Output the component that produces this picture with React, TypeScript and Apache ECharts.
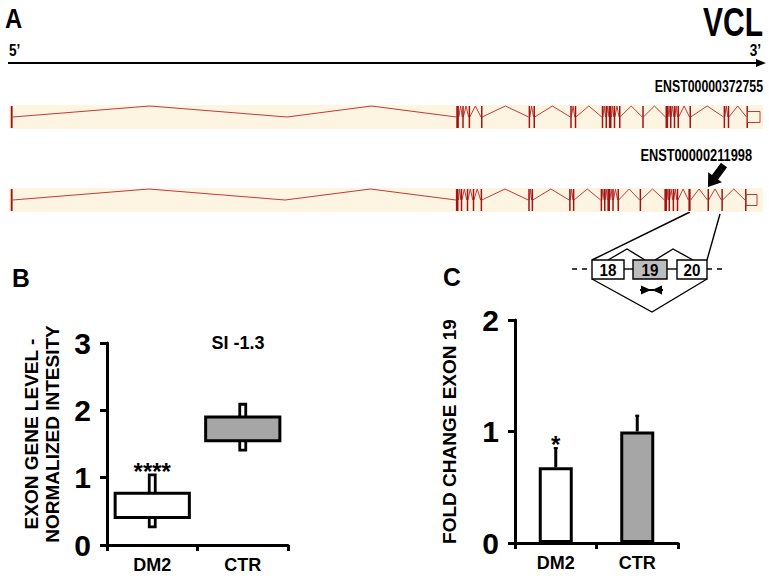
import React, { useEffect, useRef } from "react";
import * as echarts from "echarts";

const FONT = '"Liberation Sans", Arial, Helvetica, sans-serif';

// ---- Panel A: VCL gene structure (positions in % of gene span, 5' -> 3') ----
const geneName = "VCL";
const transcriptIds = ["ENST00000372755", "ENST00000211998"];
const exonsT1: number[][] = [
  [0.1, 0.35], [36.93, 36.93], [59.5, 59.85], [60.3, 60.45], [61.15, 61.3], [62.8, 62.95],
  [69.15, 69.3], [69.8, 69.95], [74.7, 74.85], [75.3, 75.45], [78.9, 79.05], [79.4, 79.55],
  [79.85, 80.2], [80.5, 80.65], [81.2, 81.35], [84.3, 84.45], [87.4, 87.75], [88.0, 88.15],
  [88.5, 88.65], [89.0, 89.15], [90.6, 90.75], [95.15, 95.3], [95.7, 95.85],
];
const exonsT2: number[][] = [
  [0.1, 0.35], [36.67, 36.67], [59.45, 59.8], [60.1, 60.25], [60.9, 61.05], [61.7, 61.85],
  [62.75, 62.9], [69.1, 69.25], [69.55, 69.7], [74.55, 74.7], [75.05, 75.2], [78.75, 78.9],
  [79.2, 79.35], [79.65, 80.0], [80.3, 80.45], [81.0, 81.15], [83.95, 84.1], [87.25, 87.6],
  [87.8, 87.95], [88.35, 88.5], [88.9, 89.05], [90.45, 90.75], [93.0, 93.15], [94.85, 95.0],
];
const utrExons: number[][] = [[98.2, 100], [98.0, 99.6]];
const insetExons = ["18", "19", "20"];

// ---- Panel B: exon gene level ----
const groups = ["DM2", "CTR"];
const boxLowB = [0.41, 1.55];
const boxHighB = [0.77, 1.9];
const whiskerLowB = [0.27, 1.41];
const whiskerHighB = [1.04, 2.09];
const sigB = ["****", ""];
const siText = "SI -1.3";

// ---- Panel C: fold change exon 19 ----
const foldC = [0.68, 1.0];
const errC = [0.18, 0.15];
const sigC = ["*", ""];

const groupFills = ["#ffffff", "#a6a6a6"];
const intronColor = "#c23a36";
const exonColor = "#9c1616";
const bandColor = "#fdf4e2";

export default function App() {
  const ref = useRef<HTMLDivElement>(null);
  useEffect(() => {
    if (!ref.current) return;
    const chart = echarts.init(ref.current, null, { renderer: "svg" });
    const geneExons = [exonsT1, exonsT2];

    const txt = (text: string, x: number, y: number, size: number, align = "left", vAlign = "middle", scaleX = 1) => ({
      type: "text",
      x,
      y,
      scaleX,
      style: { text, fill: "#000", font: `bold ${size}px ${FONT}`, textAlign: align, textVerticalAlign: vAlign },
    });

    // black block arrow pointing to exon 19 in transcript 2
    const tip = [708, 187];
    const tail = [724, 165];
    const dx = tip[0] - tail[0], dy = tip[1] - tail[1];
    const L = Math.hypot(dx, dy);
    const ux = dx / L, uy = dy / L, pxv = -uy, pyv = ux;
    const hb = [tip[0] - 12 * ux, tip[1] - 12 * uy];
    const arrowPts = [
      tip,
      [hb[0] + 8.5 * pxv, hb[1] + 8.5 * pyv],
      [hb[0] + 3.8 * pxv, hb[1] + 3.8 * pyv],
      [tail[0] + 3.8 * pxv, tail[1] + 3.8 * pyv],
      [tail[0] - 3.8 * pxv, tail[1] - 3.8 * pyv],
      [hb[0] - 3.8 * pxv, hb[1] - 3.8 * pyv],
      [hb[0] - 8.5 * pxv, hb[1] - 8.5 * pyv],
    ];

    const boxY = 260, boxH = 19;
    const insetBoxes = [
      { x: 592, w: 32 },
      { x: 633, w: 34 },
      { x: 677, w: 30 },
    ];
    const lineStyle = { stroke: "#000", lineWidth: 1.4, fill: "none" };

    const graphic: any[] = [
      txt("A", 5, 18, 28, "left", "middle", 0.85),
      txt(geneName, 763, 22, 40, "right", "middle", 0.75),
      txt("5\u2019", 9, 51, 16, "left", "middle", 0.85),
      txt("3\u2019", 761, 51, 16, "right", "middle", 0.85),
      { type: "line", shape: { x1: 8, y1: 63, x2: 759, y2: 63 }, style: { stroke: "#000", lineWidth: 2 } },
      { type: "polygon", shape: { points: [[756, 59], [766, 63], [756, 67]] }, style: { fill: "#000" } },
      txt(transcriptIds[0], 763, 86, 16, "right", "middle", 0.77),
      txt(transcriptIds[1], 752, 155, 16, "right", "middle", 0.8),
      { type: "polygon", shape: { points: arrowPts }, style: { fill: "#000" } },
      // inset: exons 18-19-20
      { type: "line", shape: { x1: 690, y1: 212, x2: 592, y2: 260 }, style: lineStyle },
      { type: "line", shape: { x1: 720, y1: 214, x2: 707, y2: 260 }, style: lineStyle },
      { type: "line", shape: { x1: 572, y1: 269, x2: 592, y2: 269 }, style: { ...lineStyle, lineDash: [5, 5] } },
      { type: "line", shape: { x1: 707, y1: 269, x2: 727, y2: 269 }, style: { ...lineStyle, lineDash: [5, 5] } },
      { type: "line", shape: { x1: 624, y1: 269, x2: 633, y2: 269 }, style: lineStyle },
      { type: "line", shape: { x1: 667, y1: 269, x2: 677, y2: 269 }, style: lineStyle },
      { type: "polyline", shape: { points: [[608, 260], [627, 249], [645, 260]] }, style: lineStyle },
      { type: "polyline", shape: { points: [[655, 260], [673, 249], [693, 260]] }, style: lineStyle },
      { type: "polyline", shape: { points: [[592, 279], [652, 312], [707, 279]] }, style: lineStyle },
      ...insetBoxes.map((b, i) => ({
        type: "rect",
        shape: { x: b.x, y: boxY, width: b.w, height: boxH },
        style: { fill: i === 1 ? "#bdbdbd" : "#fff", stroke: "#000", lineWidth: 1.4 },
      })),
      ...insetBoxes.map((b, i) => txt(insetExons[i], b.x + b.w / 2, boxY + boxH / 2 + 0.5, 16, "center", "middle", 0.95)),
      { type: "line", shape: { x1: 640, y1: 290, x2: 663, y2: 290 }, style: { stroke: "#000", lineWidth: 2 } },
      { type: "polygon", shape: { points: [[641, 285.5], [651, 290], [641, 294.5]] }, style: { fill: "#000" } },
      { type: "polygon", shape: { points: [[662, 285.5], [652, 290], [662, 294.5]] }, style: { fill: "#000" } },
      // panel letters
      txt("B", 12, 278, 26, "left", "middle", 0.95),
      txt("C", 443, 277, 26, "left", "middle", 0.95),
      txt(siText, 238, 343, 18, "center"),
    ];

    const axisLineStyle = { color: "#000", width: 3 };
    const catAxis = (gridIndex: number) => ({
      gridIndex,
      type: "category",
      data: groups,
      boundaryGap: true,
      axisLine: { show: true, lineStyle: axisLineStyle },
      axisTick: { show: true, length: 6, lineStyle: axisLineStyle },
      axisLabel: { color: "#000", fontFamily: FONT, fontWeight: "bold", fontSize: 18, margin: 11 },
      splitLine: { show: false },
    });
    const valAxis = (gridIndex: number, max: number, name: string, gap: number, pad: number[]) => ({
      gridIndex,
      type: "value",
      min: 0,
      max,
      interval: 1,
      axisLine: { show: true, lineStyle: axisLineStyle },
      axisTick: { show: true, length: 7, lineStyle: axisLineStyle },
      axisLabel: { color: "#000", fontFamily: FONT, fontWeight: "bold", fontSize: 30, margin: 16 },
      splitLine: { show: false },
      name,
      nameLocation: "middle",
      nameRotate: 90,
      nameGap: gap,
      nameTextStyle: {
        color: "#000",
        fontFamily: FONT,
        fontWeight: "bold",
        fontSize: 19,
        lineHeight: 21,
        padding: pad,
      },
    });

    const option: any = {
      animation: false,
      backgroundColor: "#fff",
      graphic,
      grid: [
        { left: 10, top: 117, width: 750, height: 83, outerBoundsMode: "none" },
        { left: 107, top: 343, width: 181, height: 202, outerBoundsMode: "none" },
        { left: 515, top: 320, width: 163, height: 223, outerBoundsMode: "none" },
      ],
      xAxis: [
        { gridIndex: 0, type: "value", min: 0, max: 100, show: false },
        catAxis(1),
        catAxis(2),
      ],
      yAxis: [
        { gridIndex: 0, type: "value", min: 0, max: 1, inverse: true, show: false },
        valAxis(1, 3, "EXON GENE LEVEL -\nNORMALIZED INTESITY", 44, [0, 0, 0, 20]),
        valAxis(2, 2, "FOLD CHANGE EXON 19", 55, [0, 0, 0, 0]),
      ],
      series: [
        {
          type: "custom",
          xAxisIndex: 0,
          yAxisIndex: 0,
          clip: false,
          data: transcriptIds.map((_, i) => [0, i]),
          renderItem: (params: any, api: any) => {
            const i = params.dataIndex;
            const base = api.coord([0, i])[1];
            const px = (u: number) => api.coord([u, i])[0];
            const exons = geneExons[i];
            const utr = utrExons[i];
            const segs = [...exons, utr];
            const children: any[] = [];
            children.push({
              type: "rect",
              shape: { x: px(0) - 1, y: base - 12, width: px(100) - px(0) + 4, height: 24 },
              style: { fill: bandColor },
            });
            for (let k = 0; k < segs.length - 1; k++) {
              const a = px(segs[k][1]);
              const b = px(segs[k + 1][0]);
              children.push({
                type: "polyline",
                shape: { points: [[a, base], [(a + b) / 2, base - 11], [b, base]] },
                style: { stroke: intronColor, lineWidth: 1, fill: "none" },
              });
            }
            exons.forEach((e) => {
              const w = px(e[1]) - px(e[0]);
              if (w <= 0) return;
              children.push({
                type: "rect",
                shape: { x: px(e[0]), y: base - 11, width: Math.max(w, 1.5), height: 22 },
                style: { fill: exonColor },
              });
            });
            children.push({
              type: "rect",
              shape: { x: px(utr[0]), y: base - 11, width: 1.5, height: 22 },
              style: { fill: exonColor },
            });
            children.push({
              type: "rect",
              shape: { x: px(utr[0]) + 1, y: base - 5.5, width: px(utr[1]) - px(utr[0]) - 1, height: 11 },
              style: { fill: "none", stroke: intronColor, lineWidth: 1 },
            });
            return { type: "group", children };
          },
        },
        {
          type: "custom",
          xAxisIndex: 1,
          yAxisIndex: 1,
          clip: false,
          data: groups.map((_, i) => [i, boxLowB[i], boxHighB[i], whiskerLowB[i], whiskerHighB[i]]),
          renderItem: (params: any, api: any) => {
            const i = params.dataIndex;
            const cx = api.coord([i, 0])[0];
            const band = api.size([1, 0])[0];
            const w = band * 0.82;
            const yQ1 = api.coord([i, api.value(1)])[1];
            const yQ3 = api.coord([i, api.value(2)])[1];
            const yWl = api.coord([i, api.value(3)])[1];
            const yWh = api.coord([i, api.value(4)])[1];
            return {
              type: "group",
              children: [
                {
                  type: "rect",
                  shape: { x: cx - 3, y: yWh, width: 6, height: yWl - yWh },
                  style: { fill: "#fff", stroke: "#000", lineWidth: 2.8 },
                },
                {
                  type: "rect",
                  shape: { x: cx - w / 2, y: yQ3, width: w, height: yQ1 - yQ3 },
                  style: { fill: groupFills[i], stroke: "#000", lineWidth: 3 },
                },
                {
                  type: "text",
                  x: cx,
                  y: yWh + 9,
                  style: {
                    text: sigB[i],
                    fill: "#000",
                    font: `bold 24px ${FONT}`,
                    textAlign: "center",
                    textVerticalAlign: "bottom",
                  },
                },
              ],
            };
          },
        },
        {
          type: "bar",
          xAxisIndex: 2,
          yAxisIndex: 2,
          barWidth: 34,
          data: foldC.map((v, i) => ({ value: v, itemStyle: { color: groupFills[i] } })),
          itemStyle: { borderColor: "#000", borderWidth: 3 },
          z: 2,
        },
        {
          type: "custom",
          xAxisIndex: 2,
          yAxisIndex: 2,
          clip: false,
          z: 3,
          data: foldC.map((v, i) => [i, v, v + errC[i]]),
          renderItem: (params: any, api: any) => {
            const i = params.dataIndex;
            const cx = api.coord([i, 0])[0];
            const y0 = api.coord([i, api.value(1)])[1];
            const y1 = api.coord([i, api.value(2)])[1];
            return {
              type: "group",
              children: [
                { type: "line", shape: { x1: cx, y1: y0, x2: cx, y2: y1 }, style: { stroke: "#000", lineWidth: 3 } },
                { type: "line", shape: { x1: cx - 2, y1: y1 + 1, x2: cx + 2, y2: y1 + 1 }, style: { stroke: "#000", lineWidth: 2 } },
                {
                  type: "text",
                  x: cx,
                  y: y1 + 9,
                  style: {
                    text: sigC[i],
                    fill: "#000",
                    font: `bold 24px ${FONT}`,
                    textAlign: "center",
                    textVerticalAlign: "bottom",
                  },
                },
              ],
            };
          },
        },
      ],
    };
    chart.setOption(option);
    return () => chart.dispose();
  }, []);
  return <div ref={ref} style={{ position: "absolute", left: 0, top: 0, width: 769, height: 578 }} />;
}
